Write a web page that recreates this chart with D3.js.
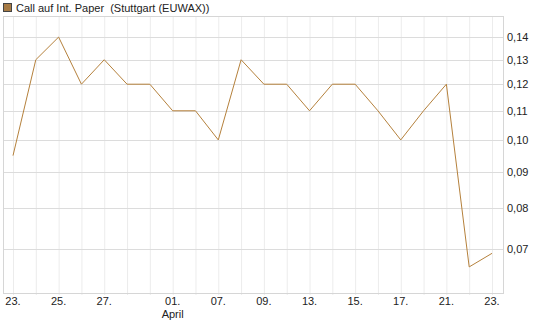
<!DOCTYPE html>
<html>
<head>
<meta charset="utf-8">
<script src="https://cdn.jsdelivr.net/npm/d3@7"></script>
<style>
  body { margin: 0; background: #fff; }
  text { font-family: "Liberation Sans", Arial, sans-serif; font-size: 11px; fill: #222; white-space: pre; }
</style>
</head>
<body>
<div id="chart"></div>
<script>
// data (one point per trading day)
const dayLabels = ["23.", "", "25.", "", "27.", "", "", "01.", "", "07.", "", "09.", "", "13.", "", "15.", "", "17.", "", "21.", "", "23."];
const prices = [0.095, 0.13, 0.14, 0.12, 0.13, 0.12, 0.12, 0.11, 0.11, 0.10, 0.13, 0.12, 0.12, 0.11, 0.12, 0.12, 0.11, 0.10, 0.11, 0.12, 0.066, 0.069];
const yTicks = [0.07, 0.08, 0.09, 0.10, 0.11, 0.12, 0.13, 0.14];
const monthLabel = {index: 7, text: "April"};
const title = "Call auf Int. Paper  (Stuttgart (EUWAX))";

const W = 545, H = 327;
const plot = {left: 3, right: 503, top: 16, bottom: 293};

const svg = d3.select("#chart").append("svg")
    .attr("width", W)
    .attr("height", H);

const x = d3.scalePoint()
    .domain(d3.range(prices.length))
    .range([13, 492]);

const y = d3.scaleLog()
    .domain([0.0606, 0.150])
    .range([plot.bottom, plot.top]);

// vertical grid
svg.append("g")
    .selectAll("line")
    .data(x.domain())
    .enter().append("line")
    .attr("x1", d => x(d) + 0.5).attr("x2", d => x(d) + 0.5)
    .attr("y1", plot.top).attr("y2", plot.bottom + 2)
    .style("stroke", "#ececec");

// horizontal grid
svg.append("g")
    .selectAll("line")
    .data(yTicks)
    .enter().append("line")
    .attr("x1", plot.left).attr("x2", plot.right)
    .attr("y1", d => Math.round(y(d)) + 0.5).attr("y2", d => Math.round(y(d)) + 0.5)
    .style("stroke", "#dcdcdc");

// frame
svg.append("rect")
    .attr("x", plot.left + 0.5)
    .attr("y", plot.top + 0.5)
    .attr("width", plot.right - plot.left)
    .attr("height", plot.bottom - plot.top)
    .style("fill", "none")
    .style("stroke", "#d6d6d6");

// y labels
svg.append("g")
    .selectAll("text")
    .data(yTicks)
    .enter().append("text")
    .attr("x", plot.right + 4)
    .attr("y", d => y(d) + 4)
    .text(d => d3.format(".2f")(d).replace(".", ","));

// x labels
svg.append("g")
    .selectAll("text")
    .data(dayLabels.map((t, i) => ({t, i})).filter(d => d.t))
    .enter().append("text")
    .attr("x", d => x(d.i))
    .attr("y", plot.bottom + 12)
    .attr("text-anchor", "middle")
    .text(d => d.t);

svg.append("text")
    .attr("x", x(monthLabel.index))
    .attr("y", plot.bottom + 25)
    .attr("text-anchor", "middle")
    .text(monthLabel.text);

// price line
const line = d3.line()
    .x((d, i) => x(i))
    .y(d => y(d));

svg.append("path")
    .datum(prices)
    .attr("d", line)
    .style("fill", "none")
    .style("stroke", "#b5813c")
    .style("stroke-width", 1);

// legend
svg.append("rect")
    .attr("x", 3.5).attr("y", 3.5)
    .attr("width", 8).attr("height", 8)
    .style("fill", "#a77b45")
    .style("stroke", "#444");

svg.append("text")
    .attr("x", 16)
    .attr("y", 12)
    .text(title);
</script>
</body>
</html>
